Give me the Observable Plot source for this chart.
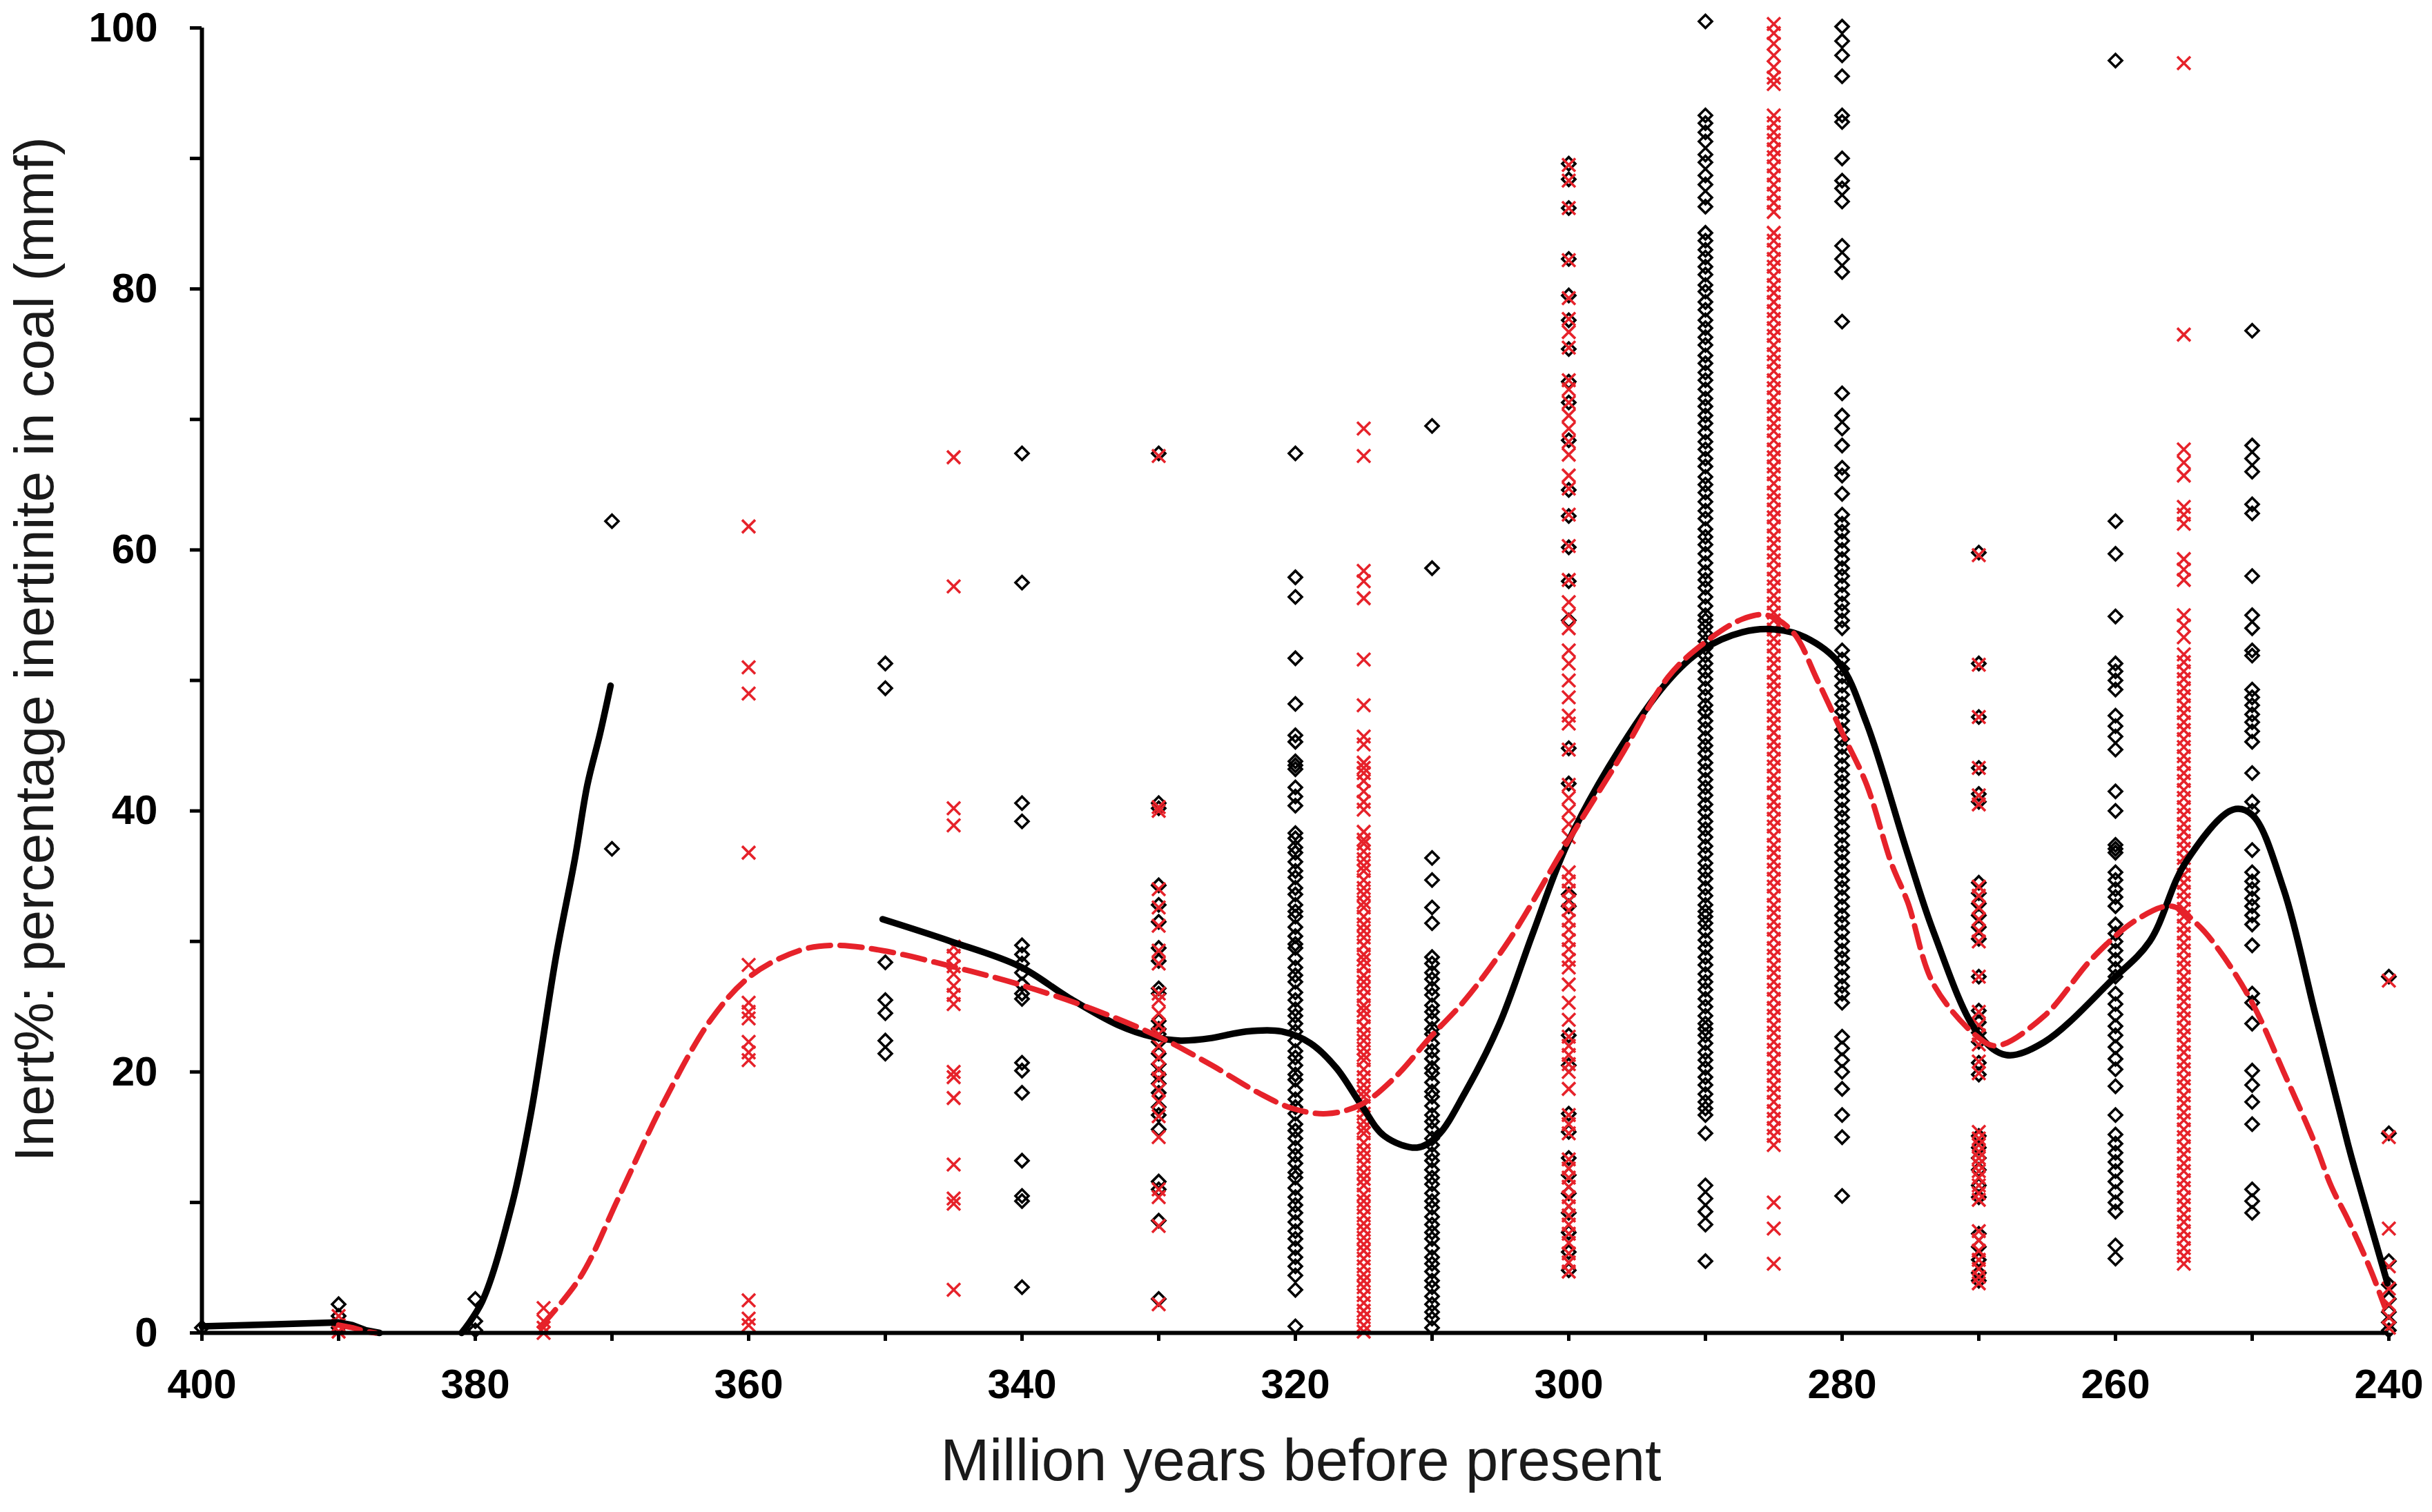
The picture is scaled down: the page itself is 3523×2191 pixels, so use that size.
<!DOCTYPE html>
<html>
<head>
<meta charset="utf-8">
<script src="https://cdn.jsdelivr.net/npm/d3@7"></script>
<script src="https://cdn.jsdelivr.net/npm/@observablehq/plot@0.6"></script>
<style>
  html, body { margin: 0; padding: 0; background: #ffffff; }
  #chart svg { display: block; }
</style>
</head>
<body>
<div id="chart"></div>
<script>
// ---------- tick labels ----------
const xTicks = [400, 390, 380, 370, 360, 350, 340, 330, 320, 310, 300, 290, 280, 270, 260, 250, 240];
const yTicks = [0, 10, 20, 30, 40, 50, 60, 70, 80, 90, 100];
const xTitle = "Million years before present";
const yTitle = "Inert%: percentage inertinite in coal (mmf)";

// ---------- black diamonds (one array per age column) ----------
const b400 = [0.4];
const b390 = [2.2, 1.3, 0.4];
const b380 = [2.6, 0.9, 0.2];
const b370 = [62.2, 37.1];
const b350 = [51.3, 49.4, 28.4, 25.5, 24.5, 22.4, 21.4];
const b340 = [67.4, 57.5, 40.6, 39.2, 29.7, 29.0, 28.3, 27.6, 26.7, 26.0, 25.6, 20.7, 20.1, 18.4, 13.2, 10.5, 10.1, 3.5];
const b330 = [67.4, 40.6, 40.2, 34.3, 32.8, 31.5, 29.5, 28.5, 26.4, 26.0, 23.9, 23.3, 22.9, 22.3, 21.4, 20.6, 19.8, 19.1, 18.4, 17.3, 16.7, 15.6, 11.6, 11.0, 8.6, 2.6];
const b320 = [67.4, 57.9, 56.4, 51.7, 48.2, 45.8, 45.3, 43.8, 43.5, 43.2, 41.8, 41.1, 40.4, 38.3, 37.9, 37.2, 36.8, 36.1, 35.4, 34.9, 34.1, 33.6, 32.8, 32.3, 31.9, 31.1, 30.4, 29.8, 29.5, 28.7, 28.0, 27.4, 26.9, 26.1, 25.5, 24.8, 24.3, 23.7, 23.1, 22.4, 21.6, 21.1, 20.5, 19.8, 19.4, 18.6, 17.9, 17.3, 16.8, 16.0, 15.5, 14.9, 14.2, 13.6, 13.0, 12.3, 11.9, 11.1, 10.4, 9.8, 9.2, 8.5, 7.8, 7.2, 6.5, 5.8, 5.1, 4.4, 3.3, 0.5];
const b310 = [69.5, 58.6, 36.4, 34.7, 32.6, 31.4, 28.8, 28.3, 27.6, 27.1, 26.4, 25.9, 25.1, 24.6, 24.0, 23.3, 22.9, 22.2, 21.6, 21.0, 20.3, 19.9, 19.2, 18.5, 18.1, 17.4, 16.7, 16.2, 15.6, 14.9, 14.4, 13.7, 13.2, 12.5, 11.9, 11.4, 10.7, 10.1, 9.6, 8.9, 8.3, 7.7, 7.2, 6.5, 5.8, 5.3, 4.7, 4.0, 3.5, 2.8, 2.2, 1.6, 1.1, 0.4];
const b300 = [89.6, 88.4, 86.2, 82.3, 79.5, 77.6, 75.4, 72.9, 71.3, 68.4, 64.6, 62.6, 60.2, 57.6, 54.6, 44.8, 42.1, 33.6, 32.7, 22.8, 20.5, 16.8, 15.4, 13.4, 12.1, 10.7, 9.2, 7.7, 6.2, 4.8];
const b290 = [100.5, 93.3, 92.7, 92.0, 91.3, 90.3, 89.7, 88.7, 88.0, 87.0, 86.3, 84.3, 83.7, 83.0, 82.4, 81.7, 81.1, 80.3, 79.8, 79.0, 78.4, 77.6, 77.0, 76.3, 75.7, 74.9, 74.3, 73.6, 73.0, 72.3, 71.6, 71.0, 70.3, 69.7, 69.0, 68.3, 67.7, 67.0, 66.4, 65.6, 65.0, 64.4, 63.7, 63.0, 62.4, 61.6, 61.0, 60.4, 59.7, 59.0, 58.3, 57.7, 57.1, 56.4, 55.7, 55.0, 54.6, 54.1, 53.6, 53.0, 52.5, 51.9, 51.3, 50.7, 50.1, 49.4, 48.8, 48.1, 47.6, 46.9, 46.3, 45.6, 45.0, 44.4, 43.7, 43.1, 42.4, 41.8, 41.2, 40.5, 39.9, 39.2, 38.6, 38.0, 37.3, 36.7, 36.0, 35.4, 34.8, 34.1, 33.5, 32.8, 32.3, 31.9, 31.4, 30.8, 30.1, 29.5, 28.8, 28.2, 27.5, 26.9, 26.3, 25.6, 25.0, 24.3, 23.7, 23.3, 22.8, 22.2, 21.5, 20.9, 20.3, 19.6, 19.0, 18.3, 17.7, 17.2, 16.7, 15.3, 11.3, 10.3, 9.3, 8.3, 5.5];
const b280 = [100.1, 99.0, 97.9, 96.3, 93.3, 92.8, 90.0, 88.3, 87.7, 86.7, 83.3, 82.3, 81.3, 77.5, 72.0, 70.3, 69.3, 68.0, 66.3, 65.7, 64.3, 62.7, 62.0, 61.4, 60.7, 60.0, 59.3, 58.6, 58.0, 57.3, 56.6, 55.9, 55.3, 54.6, 54.0, 52.3, 51.6, 50.9, 50.3, 49.6, 48.9, 48.2, 47.6, 46.9, 46.2, 45.5, 44.9, 44.2, 43.5, 42.8, 42.2, 41.5, 40.8, 40.1, 39.5, 38.8, 38.1, 37.4, 36.8, 36.1, 35.4, 34.7, 34.1, 33.4, 32.7, 32.0, 31.4, 30.7, 30.0, 29.3, 28.7, 28.0, 27.3, 26.6, 26.0, 25.3, 22.7, 21.8, 20.9, 20.0, 18.7, 16.7, 15.0, 10.5];
const b270 = [59.8, 51.3, 47.2, 43.3, 41.3, 40.7, 34.5, 33.7, 32.9, 32.0, 31.1, 30.2, 27.3, 24.7, 23.8, 23.0, 22.3, 20.7, 19.8, 15.1, 14.2, 13.4, 12.5, 11.3, 10.4, 7.6, 6.6, 5.6, 4.6, 4.0];
const b260 = [97.5, 62.2, 59.7, 54.9, 51.3, 50.7, 50.0, 49.3, 47.3, 46.5, 45.7, 44.7, 41.5, 40.0, 37.4, 37.1, 36.8, 35.3, 34.7, 34.0, 33.4, 32.7, 31.3, 30.6, 30.0, 29.3, 28.6, 27.9, 27.3, 26.0, 25.2, 24.4, 23.5, 22.8, 21.9, 21.0, 20.2, 18.9, 16.7, 15.2, 14.5, 13.8, 13.1, 12.4, 11.6, 10.8, 10.0, 9.3, 6.7, 5.7];
const b250 = [76.8, 68.0, 67.0, 66.0, 63.5, 62.8, 58.0, 55.0, 54.0, 52.3, 51.9, 49.3, 48.7, 48.1, 47.4, 46.8, 46.1, 45.3, 42.9, 40.7, 40.0, 37.0, 35.3, 34.6, 34.0, 33.3, 32.7, 32.0, 31.3, 29.7, 26.0, 25.3, 23.7, 20.1, 19.0, 17.7, 16.0, 11.0, 10.1, 9.2];
const b240 = [27.3, 15.3, 5.5, 3.7, 2.6, 1.6, 0.8, 0.2];

// ---------- red crosses (one array per age column) ----------
const r390 = [1.3, 0.6, 0.1];
const r375 = [1.9, 0.9, 0.4, 0.0];
const r360 = [61.8, 51.0, 49.0, 36.8, 28.2, 25.3, 24.6, 24.1, 22.3, 21.5, 20.9, 2.5, 1.1, 0.6];
const r345 = [67.1, 57.2, 40.2, 38.9, 29.6, 28.9, 28.1, 27.5, 26.6, 25.9, 25.2, 20.0, 19.6, 18.0, 12.9, 10.3, 9.9, 3.3];
const r330 = [67.2, 40.3, 40.0, 34.0, 32.6, 31.2, 29.3, 28.3, 26.0, 25.5, 24.5, 23.6, 22.9, 22.0, 21.1, 20.2, 19.5, 18.6, 17.7, 16.6, 15.0, 11.0, 10.4, 8.2, 2.2];
const r315 = [69.3, 67.2, 58.4, 57.6, 56.3, 51.6, 48.1, 45.7, 45.1, 43.7, 43.3, 42.9, 42.3, 41.5, 40.7, 40.1, 38.4, 37.8, 37.5, 36.9, 36.3, 35.8, 35.4, 34.7, 34.1, 33.6, 33.0, 32.6, 31.9, 31.3, 30.8, 30.3, 29.7, 29.0, 28.6, 28.1, 27.4, 26.9, 26.4, 25.8, 25.1, 24.7, 24.2, 23.5, 22.9, 22.4, 21.8, 21.3, 20.9, 20.2, 19.6, 19.0, 18.5, 18.1, 17.4, 16.8, 16.2, 15.7, 15.3, 14.6, 14.0, 13.5, 12.9, 12.3, 11.8, 11.3, 10.6, 10.1, 9.6, 9.0, 8.4, 7.9, 7.3, 6.8, 6.3, 5.7, 5.1, 4.5, 4.0, 3.5, 2.9, 2.3, 1.7, 1.2, 0.6, 0.1];
const r300 = [89.5, 88.3, 86.2, 82.2, 79.3, 77.7, 76.7, 75.5, 73.0, 72.3, 71.3, 70.3, 69.3, 68.3, 67.3, 65.7, 64.7, 62.7, 60.3, 57.7, 56.0, 55.0, 54.0, 52.3, 51.3, 50.0, 48.7, 47.3, 46.7, 44.7, 42.0, 41.0, 40.0, 39.0, 38.0, 35.3, 34.6, 33.9, 33.1, 32.4, 31.6, 30.9, 30.1, 29.4, 28.6, 28.0, 26.7, 25.3, 24.0, 22.7, 22.0, 21.3, 20.6, 20.0, 18.7, 16.7, 16.0, 15.3, 13.3, 12.6, 11.9, 11.2, 10.4, 9.7, 9.0, 8.3, 7.6, 6.9, 6.1, 5.4, 4.7];
const r285 = [100.3, 99.6, 98.8, 97.9, 97.0, 96.2, 95.7, 93.3, 92.7, 92.0, 91.4, 90.7, 90.1, 89.4, 88.7, 88.0, 87.3, 86.6, 85.9, 84.3, 83.7, 83.0, 82.3, 81.7, 81.0, 80.3, 79.7, 79.0, 78.3, 77.7, 77.0, 76.4, 75.7, 75.0, 74.4, 73.7, 73.0, 72.4, 71.7, 71.0, 70.4, 69.7, 69.1, 68.4, 67.7, 67.1, 66.4, 65.8, 65.1, 64.4, 63.8, 63.1, 62.5, 61.8, 61.1, 60.5, 59.8, 59.2, 58.5, 57.8, 57.2, 56.5, 55.9, 55.2, 54.6, 53.9, 53.2, 52.6, 51.9, 51.3, 50.6, 49.9, 49.3, 48.6, 48.0, 47.3, 46.7, 46.0, 45.3, 44.7, 44.0, 43.4, 42.7, 42.1, 41.4, 40.7, 40.1, 39.4, 38.8, 38.1, 37.4, 36.8, 36.1, 35.5, 34.8, 34.2, 33.5, 32.8, 32.2, 31.5, 30.9, 30.2, 29.5, 28.9, 28.2, 27.6, 26.9, 26.3, 25.6, 24.9, 24.3, 23.6, 23.0, 22.3, 21.7, 21.0, 20.3, 19.7, 19.0, 18.4, 17.7, 17.0, 16.4, 15.7, 15.1, 14.4, 10.0, 8.0, 5.3];
const r270 = [59.6, 51.2, 47.2, 43.3, 41.2, 40.5, 34.2, 33.5, 32.6, 31.7, 30.8, 30.0, 27.3, 24.6, 23.6, 22.8, 22.1, 20.8, 19.9, 15.4, 14.9, 14.4, 13.9, 13.4, 12.9, 12.4, 11.9, 11.3, 10.7, 10.2, 7.8, 7.1, 6.3, 5.6, 4.9, 4.3, 3.8];
const r255 = [97.3, 76.5, 67.7, 66.7, 65.7, 63.3, 62.7, 62.0, 59.3, 58.5, 57.7, 55.0, 54.2, 53.3, 52.0, 51.4, 50.7, 50.1, 49.4, 48.8, 48.1, 47.5, 46.8, 46.2, 45.5, 44.9, 44.2, 43.6, 42.9, 42.3, 41.6, 41.0, 40.3, 39.7, 39.0, 38.4, 37.7, 37.1, 36.4, 35.8, 35.1, 34.5, 33.8, 33.2, 32.5, 31.9, 31.2, 30.6, 29.9, 29.3, 28.6, 28.0, 27.3, 26.7, 26.0, 25.4, 24.7, 24.1, 23.4, 22.8, 22.1, 21.5, 20.8, 20.2, 19.5, 18.9, 18.2, 17.6, 16.9, 16.3, 15.6, 15.0, 14.3, 13.7, 13.0, 12.4, 11.7, 11.1, 10.4, 9.8, 9.1, 8.5, 7.8, 7.2, 6.5, 5.9, 5.3];
const r240 = [27.0, 15.0, 8.0, 5.1, 3.4, 2.2, 1.2, 0.4];

// ---------- smoothed trend curves [age, inert%] ----------
const blackCurve1 = [[400, 0.5], [395, 0.65], [390, 0.8], [389, 0.6], [388, 0.2], [387, 0]];
const blackCurve2 = [[381, 0], [379.5, 2.4], [377.3, 9.9], [375.9, 17.0], [374.1, 28.8], [372.7, 36.4], [371.8, 42.0], [370.9, 45.8], [370.1, 49.6]];
const blackCurve3 = [[350.2, 31.7], [345.2, 30.0], [340.2, 28.1], [336.6, 25.7], [333.0, 23.6], [330.5, 22.7], [328.4, 22.4], [326.1, 22.6], [323.6, 23.1], [321.0, 23.1], [318.9, 22.2], [317.0, 20.3], [315.2, 17.5], [313.5, 15.1], [311.1, 14.2], [309.6, 15.1], [307.6, 18.4], [305.1, 23.6], [302.6, 30.7], [300.1, 37.5], [296.3, 44.7], [292.7, 50.0], [290.3, 52.3], [287.3, 53.7], [284.8, 53.9], [282.7, 53.3], [280.2, 51.3], [278.2, 46.7], [275.2, 36.7], [273.3, 30.7], [270.1, 23.0], [268.0, 21.3], [265.2, 22.3], [260.3, 27.0], [257.5, 30.0], [254.9, 36.0], [251.4, 40.1], [250.0, 39.7], [247.7, 34.0], [245.4, 24.5], [243.0, 14.5], [242.4, 12.2], [240.1, 3.8]];
const redCurve1 = [[390, 0.6], [389, 0.4], [388, 0.1], [387.3, 0]];
const redCurve2 = [[375.2, 0.5], [372.3, 4.3], [369.5, 10.4], [366.3, 17.5], [362.7, 24.1], [359.8, 27.4], [356.3, 29.3], [353.8, 29.7], [350.2, 29.3], [345.2, 28.1], [340.2, 26.7], [334.8, 24.8], [330.0, 22.7], [326.1, 20.5], [322.7, 18.4], [320.2, 17.2], [317.7, 16.8], [315.2, 17.5], [312.7, 19.6], [310.1, 22.7], [307.6, 25.5], [304.3, 30.2], [300.1, 37.6], [296.3, 44.0], [292.7, 50.3], [290.3, 52.7], [287.3, 54.7], [285.5, 55.0], [283.6, 53.7], [281.8, 50.0], [280.0, 46.0], [278.2, 42.0], [276.4, 36.0], [275.2, 33.0], [273.3, 26.7], [270.1, 22.7], [268.7, 22.0], [265.2, 24.3], [261.7, 28.7], [258.4, 31.7], [255.9, 32.7], [254.0, 31.3], [252.4, 29.3], [250.0, 25.3], [247.7, 20.0], [245.4, 14.5], [244.2, 11.2], [243.0, 8.7], [241.4, 5.0], [240.3, 2.0]];

// ---------- assemble point tables ----------
const blackColumns = [[400, b400], [390, b390], [380, b380], [370, b370], [350, b350], [340, b340], [330, b330], [320, b320], [310, b310], [300, b300], [290, b290], [280, b280], [270, b270], [260, b260], [250, b250], [240, b240]];
const redColumns = [[390, r390], [375, r375], [360, r360], [345, r345], [330, r330], [315, r315], [300, r300], [285, r285], [270, r270], [255, r255], [240, r240]];
const blackPts = blackColumns.flatMap(([age, vals]) => vals.map(v => ({age, v})));
const redPts = redColumns.flatMap(([age, vals]) => vals.map(v => ({age, v})));
const toObj = arr => arr.map(([age, v]) => ({age, v}));

// ---------- marker symbols ----------
const diamond = {
  draw(ctx, size) {
    const r = Math.sqrt(size / Math.PI);
    ctx.moveTo(-r, 0); ctx.lineTo(0, -r); ctx.lineTo(r, 0); ctx.lineTo(0, r); ctx.closePath();
  }
};
const cross = {
  draw(ctx, size) {
    const r = Math.sqrt(size / Math.PI);
    ctx.moveTo(-r, -r); ctx.lineTo(r, r); ctx.moveTo(-r, r); ctx.lineTo(r, -r);
  }
};

const RED = "#e6222a";
const FONT = "'Liberation Sans', Arial, Helvetica, sans-serif";

const chart = Plot.plot({
  width: 3523,
  height: 2191,
  marginLeft: 292,
  marginRight: 63,
  marginTop: 40,
  marginBottom: 260,
  x: {domain: [400, 240]},
  y: {domain: [0, 100]},
  style: {fontFamily: FONT, background: "#ffffff", color: "#000000"},
  marks: [
    Plot.dot(blackPts, {x: "age", y: "v", symbol: diamond, r: 9.5, stroke: "#000000", strokeWidth: 3.6, fill: "none"}),
    Plot.dot(redPts, {x: "age", y: "v", symbol: cross, r: 9.5, stroke: RED, strokeWidth: 3.6, fill: "none"}),
    Plot.line(toObj(blackCurve1), {x: "age", y: "v", stroke: "#000000", strokeWidth: 9.5}),
    Plot.line(toObj(blackCurve2), {x: "age", y: "v", stroke: "#000000", strokeWidth: 9.5, curve: "catmull-rom"}),
    Plot.line(toObj(blackCurve3), {x: "age", y: "v", stroke: "#000000", strokeWidth: 9.5, curve: "catmull-rom"}),
    Plot.line(toObj(redCurve1), {x: "age", y: "v", stroke: RED, strokeWidth: 8, strokeDasharray: "32,14"}),
    Plot.line(toObj(redCurve2), {x: "age", y: "v", stroke: RED, strokeWidth: 8, strokeDasharray: "32,14", curve: "catmull-rom"}),
    Plot.ruleY([0], {stroke: "#000000", strokeWidth: 6}),
    Plot.ruleX([400], {y1: 0, y2: 100, stroke: "#000000", strokeWidth: 6}),
    Plot.axisX({ticks: xTicks, tickFormat: d => (d % 20 === 0 ? String(d) : ""), tickSize: 12, tickPadding: 40, fontSize: 60, fontWeight: "bold", strokeWidth: 5, label: null}),
    Plot.axisY({ticks: yTicks, tickFormat: d => (d % 20 === 0 ? String(d) : ""), tickSize: 17, tickPadding: 47, fontSize: 60, fontWeight: "bold", strokeWidth: 5, label: null}),
    Plot.text([xTitle], {frameAnchor: "bottom", lineAnchor: "middle", textAnchor: "middle", dx: 8, dy: 186, fontSize: 85, fill: "#1a1a1a"}),
    Plot.text([yTitle], {frameAnchor: "left", lineAnchor: "middle", textAnchor: "middle", dx: -241, dy: -45, rotate: -90, fontSize: 80, fill: "#1a1a1a"})
  ]
});
document.getElementById("chart").appendChild(chart);
</script>
</body>
</html>
